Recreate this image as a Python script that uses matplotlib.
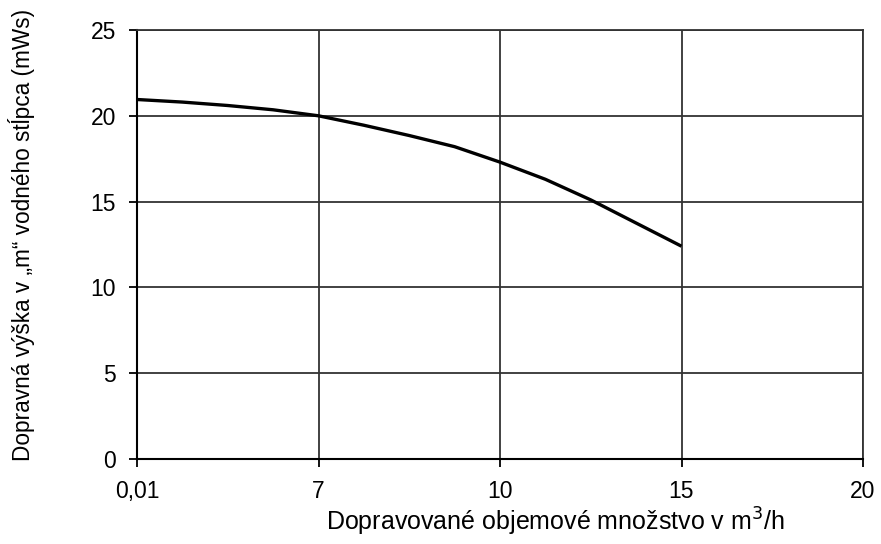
import matplotlib
matplotlib.use("Agg")
import matplotlib.pyplot as plt

plt.rcParams['font.family'] = ['Liberation Sans', 'DejaVu Sans']

# x axis is categorical: equally spaced flow values
x_labels = ['0,01', '7', '10', '15', '20']
# curve points, x given as position on the category axis
curve_pos = [0, 0.25, 0.5, 0.75, 1.0, 1.25, 1.5, 1.75, 2.0, 2.25, 2.5, 2.75, 3.0]
curve_head = [20.95, 20.8, 20.6, 20.35, 20.0, 19.45, 18.85, 18.2, 17.3, 16.3, 15.1, 13.75, 12.4]
y_ticks = [0, 5, 10, 15, 20, 25]

fig = plt.figure(figsize=(8.81, 5.44), dpi=100)
ax = fig.add_axes([137 / 881, 1 - 459 / 544, (863 - 137) / 881, (459 - 30) / 544])

ax.plot(curve_pos, curve_head, color='black', linewidth=2.4, solid_capstyle='butt')

ax.set_xlim(0, len(x_labels) - 1)
ax.set_ylim(0, 25)
ax.set_xticks(range(len(x_labels)))
ax.set_xticklabels(x_labels)
ax.set_yticks(y_ticks)

ax.grid(True, color='#333333', linewidth=1.3)
ax.set_axisbelow(True)
for s in ['top', 'right']:
    ax.spines[s].set_color('#333333')
    ax.spines[s].set_linewidth(1.3)
for s in ['left', 'bottom']:
    ax.spines[s].set_color('black')
    ax.spines[s].set_linewidth(1.5)

ax.tick_params(direction='out', length=6, width=1.3, labelsize=16.5, colors='black', pad=9)

ax.set_xlabel('Dopravované objemové množstvo v m$^3$/h', fontsize=18)
ax.xaxis.set_label_coords(0.576, -0.11)
ax.set_ylabel('Dopravná výška v „m“ vodného stĺpca (mWs)', fontsize=16.3)
ax.yaxis.set_label_coords(-0.14, 0.522)

fig.savefig('out.png', dpi=100)
